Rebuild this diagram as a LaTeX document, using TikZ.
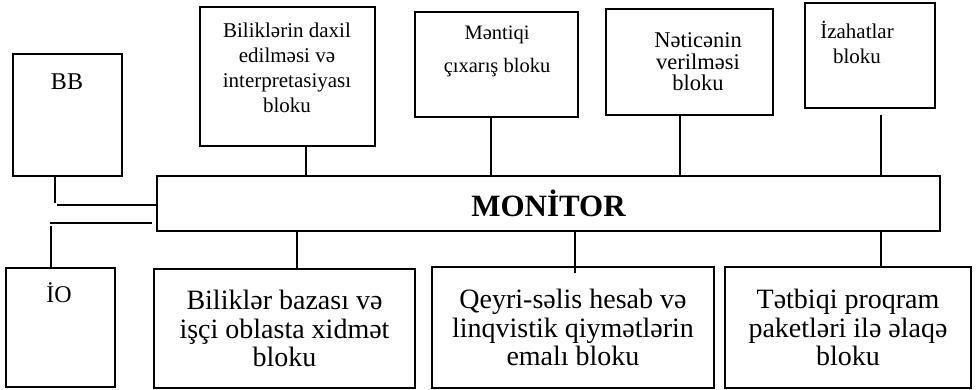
\documentclass[tikz,border=0pt]{standalone}
\usepackage{fontspec}
\setmainfont{Liberation Serif}
\usetikzlibrary{positioning}

\begin{document}
\begin{tikzpicture}[x=1pt, y=-1pt,
		blok/.style={draw, line width=1.2pt, inner sep=0pt, align=center},
		xett/.style={line width=1.2pt},
		kicik/.style={align=center, inner sep=0pt, font=\fontsize{21}{25}\selectfont},
		boyuk/.style={font=\fontsize{24}{27.5}\selectfont},
		alt/.style={font=\fontsize{28}{28.5}\selectfont}]
		
		\useasboundingbox (0,0) rectangle (977,390);
		
		% central bus
		\node[blok, minimum width=783pt, minimum height=55pt,
		font=\fontsize{31}{31}\selectfont\bfseries] (monitor) at (548.5,203.5) {MONİTOR};
		
		% left: BB and IO
		\node[blok, minimum width=109pt, minimum height=122pt] (bb) at (67.5,115) {};
		\node[boyuk] (bb-y) at (67,82) {BB};
		\node[blok, minimum width=109pt, minimum height=119pt] (io) at (60.5,327.5) {};
		\node[boyuk] (io-y) at (59,293) {İO};
		
		% top row
		\node[blok, minimum width=175pt, minimum height=139pt] (bilik) at (287.5,76.5) {};
		\node[kicik] (bilik-y) at (287,68) {Biliklərin daxil\\edilməsi və\\interpretasiyası\\bloku};
		
		\node[blok, minimum width=163pt, minimum height=105pt] (mentiq) at (496.5,64.5) {};
		\node[kicik, font=\fontsize{20.5}{33}\selectfont] (mentiq-y) at (497,51) {Məntiqi\\çıxarış bloku};
		
		\node[blok, minimum width=167pt, minimum height=106pt] (netice) at (689.5,62) {};
		\node[kicik, font=\fontsize{22.5}{21.5}\selectfont] (netice-y) at (698,62) {Nəticənin\\verilməsi\\bloku};
		
		\node[blok, minimum width=130pt, minimum height=105pt] (izah) at (870,55.5) {};
		\node[kicik] (izah-y) at (857,42) {İzahatlar\\bloku};
		
		% bottom row
		\node[blok, alt, minimum width=261pt, minimum height=119pt] (baza) at (284.5,328.5)
		{Biliklər bazası və\\işçi oblasta xidmət\\bloku};
		\node[blok, alt, minimum width=282pt, minimum height=121pt] (qeyri) at (573,327.5)
		{Qeyri-səlis hesab və\\linqvistik qiymətlərin\\emalı bloku};
		\node[blok, alt, minimum width=246pt, minimum height=121pt] (tetbiq) at (848,327.5)
		{Tətbiqi proqram\\paketləri ilə əlaqə\\bloku};
		
		% links to the top blocks
		\draw[xett] (bilik.south -| 306,0) -- (monitor.north -| 306,0);
		\draw[xett] (mentiq.south -| 491,0) -- (monitor.north -| 491,0);
		\draw[xett] (netice.south -| 680,0) -- (monitor.north -| 680,0);
		\coordinate (izah-k) at (881,115);
		\draw[xett] (izah-k) -- (izah-k |- monitor.north);
		
		% links to the bottom blocks
		\draw[xett] (monitor.south -| 297,0) -- (baza.north -| 297,0);
		\coordinate (qeyri-k) at (575,273);
		\draw[xett] (monitor.south -| qeyri-k) -- (qeyri-k);
		\draw[xett] (monitor.south -| 881,0) -- (tetbiq.north -| 881,0);
		
		% BB and IO lines
		\coordinate (bb-k) at (55,203);
		\draw[xett] (bb.south -| bb-k) -- (bb-k);
		\coordinate (bb-x) at (57,205);
		\draw[xett] (bb-x) -- (bb-x -| monitor.west);
		\coordinate (io-x) at (50,223);
		\coordinate (io-z) at (152,223);
		\draw[xett] (io-x) -- (io-z);
		\coordinate (io-k) at (51,226);
		\draw[xett] (io-k) -- (io-k |- io.north);
		
	\end{tikzpicture}
\end{document}
